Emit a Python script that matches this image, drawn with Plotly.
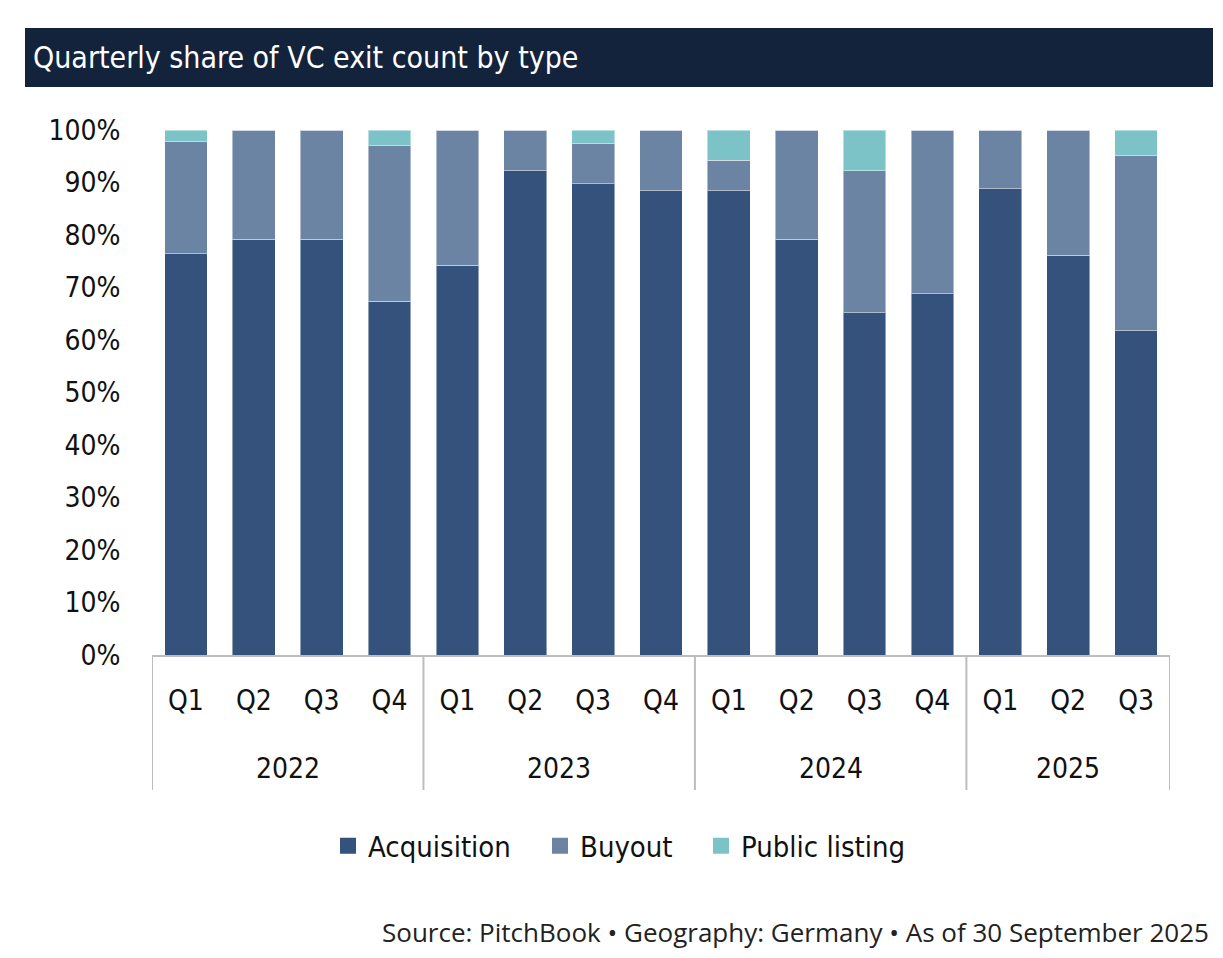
import plotly.graph_objects as go

years = ["2022"] * 4 + ["2023"] * 4 + ["2024"] * 4 + ["2025"] * 3
quarters = ["Q1", "Q2", "Q3", "Q4", "Q1", "Q2", "Q3", "Q4", "Q1", "Q2", "Q3", "Q4", "Q1", "Q2", "Q3"]

acquisition = [76.4, 79.2, 79.2, 67.4, 74.2, 92.2, 89.8, 88.4, 88.4, 79.2, 65.2, 68.8, 88.8, 76.1, 61.8]
buyout = [21.4, 20.8, 20.8, 29.6, 25.8, 7.8, 7.6, 11.6, 5.8, 20.8, 27.0, 31.2, 11.2, 23.9, 33.3]
public_listing = [2.2, 0.0, 0.0, 3.0, 0.0, 0.0, 2.6, 0.0, 5.8, 0.0, 7.8, 0.0, 0.0, 0.0, 4.9]

series_names = ["Acquisition", "Buyout", "Public listing"]
series_values = [acquisition, buyout, public_listing]
series_colors = ["#34527c", "#6b84a3", "#7cc3c8"]

FONT = "DejaVu Sans Condensed"
TXT = "#111111"

xcats = [f"{y} {q}" for y, q in zip(years, quarters)]

# page body has an 8px margin; work in reference pixel coords
OFF = 8
W, H = 1223 - 2 * OFF, 958 - 2 * OFF
L, R, T, B = 152, 1170, 130, 655
pw, ph = R - L, B - T

def px(x):
    return (x - L) / pw

def py(y):
    return (B - y) / ph

fig = go.Figure()
for name, vals, color in zip(series_names, series_values, series_colors):
    fig.add_trace(go.Bar(
        x=xcats, y=vals, name=name, showlegend=False,
        marker=dict(color=color, line=dict(color="rgba(255,255,255,0.45)", width=1)),
    ))

legend_ids = ["legend", "legend2", "legend3"]
legend_sq_centers = [353, 565, 726]
legends = {}
for name, color, lid, cx in zip(series_names, series_colors, legend_ids, legend_sq_centers):
    fig.add_trace(go.Scatter(
        x=[None], y=[None], mode="markers", name=name, legend=lid, showlegend=True,
        marker=dict(symbol="square", size=19, color=color),
    ))
    legends[lid] = dict(orientation="h", x=px(cx - 25), xanchor="left", y=py(846),
                        yanchor="middle", font=dict(family=FONT, size=29, color=TXT),
                        bgcolor="rgba(0,0,0,0)")

# year groups and dividers from the data
groups = []
for i, y in enumerate(years):
    if not groups or groups[-1][0] != y:
        groups.append([y, i, i])
    else:
        groups[-1][2] = i

shapes = [dict(type="rect", xref="paper", yref="paper",
               x0=px(25), x1=px(1213), y0=py(87), y1=py(28),
               fillcolor="#14233c", line=dict(width=0), layer="above")]
annotations = []
for y, i0, i1 in groups:
    annotations.append(dict(text=y, xref="x", yref="paper", x=(i0 + i1) / 2, y=py(768),
                            xanchor="center", yanchor="middle", showarrow=False,
                            font=dict(family=FONT, size=28, color=TXT)))
bounds = [g[1] - 0.5 for g in groups] + [groups[-1][2] + 0.5]
for b in bounds:
    shapes.append(dict(type="line", xref="x", yref="paper", x0=b, x1=b, y0=0, y1=py(790),
                       line=dict(color="#bdbdbd", width=2)))

annotations += [
    dict(text="Quarterly share of VC exit count by type", xref="paper", yref="paper",
         x=px(31), y=py(58), xanchor="left", yanchor="middle", showarrow=False,
         font=dict(family=FONT, size=30, color="white")),
    dict(text="Source: PitchBook • Geography: Germany • As of 30 September 2025",
         xref="paper", yref="paper", x=px(1211), y=py(932), xanchor="right",
         yanchor="middle", showarrow=False,
         font=dict(family="Open Sans", size=26, color="#222222")),
]

fig.update_layout(
    width=W, height=H,
    barmode="stack", bargap=0.37,
    margin=dict(l=L - OFF, r=(1223 - OFF) - R, t=T - OFF, b=(958 - OFF) - B),
    paper_bgcolor="white", plot_bgcolor="white",
    font=dict(family=FONT, size=28, color=TXT),
    showlegend=True,
    xaxis=dict(
        type="category", tickvals=xcats, ticktext=quarters,
        showline=True, linecolor="#bdbdbd", linewidth=2,
        ticks="outside", ticklen=19, tickcolor="rgba(0,0,0,0)",
        showgrid=False, tickfont=dict(family=FONT, size=28, color=TXT), range=[-0.5, 14.5],
    ),
    yaxis=dict(
        range=[0, 100], tickvals=[0, 10, 20, 30, 40, 50, 60, 70, 80, 90, 100],
        ticktext=[f"{v}%" for v in range(0, 101, 10)],
        showgrid=False, zeroline=False, showline=False,
        ticks="outside", ticklen=25, tickcolor="rgba(0,0,0,0)",
        tickfont=dict(family=FONT, size=28, color=TXT),
    ),
    shapes=shapes,
    annotations=annotations,
    **legends,
)

fig.write_html("out.html")
